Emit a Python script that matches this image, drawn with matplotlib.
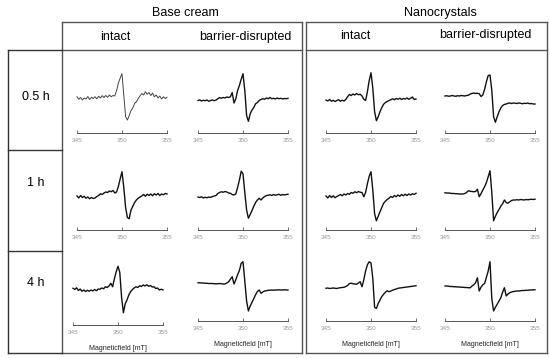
import matplotlib
matplotlib.use('Agg')
import matplotlib.pyplot as plt
import numpy as np
from matplotlib.lines import Line2D

plt.rcParams['font.family'] = ['Liberation Sans', 'DejaVu Sans']

# ===== data (0.2 mT steps) =====
field = np.linspace(345, 355, 51)

groups = ["Base cream", "Nanocrystals"]
conditions = ["intact", "barrier-disrupted"]
times = ["0.5 h", "1 h", "4 h"]

# row 0.5 h
bc_intact_05 = [0.05, -0.05, 0.02, -0.08, 0.0, -0.04, 0.06, -0.06, 0.03, -0.02,
                0.05, -0.03, 0.07, 0.0, 0.09, 0.02, 0.10, 0.03, 0.12, 0.05,
                0.10, 0.08, 0.30, 0.60, 0.80, 0.97, 0.10, -0.75, -0.88, -0.70,
                -0.50, -0.40, -0.22, -0.15, -0.02, 0.08, 0.18, 0.12, 0.25, 0.15,
                0.22, 0.10, 0.20, 0.05, 0.12, 0.00, 0.08, -0.04, 0.05, -0.02, 0.03]
bc_barrier_05 = [-0.10, -0.08, -0.12, -0.09, -0.11, -0.08, -0.13, -0.10, -0.08, -0.11,
                 -0.08, -0.03, 0.02, -0.01, 0.02, 0.0, 0.04, 0.02, 0.05, 0.22,
                 -0.20, -0.03, 0.30, 0.50, 0.75, 0.97, 0.30, -0.70, -0.93, -0.63,
                 -0.48, -0.38, -0.23, -0.18, -0.10, -0.06, -0.03, -0.05, 0.0, -0.03,
                 0.02, -0.03, -0.01, -0.04, 0.0, -0.03, -0.01, -0.04, -0.02, -0.03, -0.01]
nc_intact_05 = [-0.08, -0.12, -0.06, -0.13, -0.09, -0.14, -0.10, -0.07, -0.13, -0.09,
                -0.12, -0.06, 0.05, 0.14, 0.10, 0.16, 0.12, 0.18, 0.13, 0.15,
                0.08, -0.05, -0.10, 0.25, 0.70, 1.01, 0.40, -0.55, -0.91, -0.75,
                -0.55, -0.38, -0.25, -0.18, -0.14, -0.10, -0.07, -0.03, -0.07, -0.02,
                -0.05, -0.01, -0.06, -0.02, -0.04, 0.0, -0.05, -0.01, 0.04, -0.06, -0.04]
nc_barrier_05 = [0.08, 0.09, 0.07, 0.08, 0.10, 0.08, 0.07, 0.09, 0.08, 0.10,
                 0.09, 0.08, 0.10, 0.11, 0.16, 0.18, 0.20, 0.18, 0.19, 0.17,
                 0.06, 0.12, 0.35, 0.65, 0.90, 0.92, 0.30, -0.75, -0.97, -0.75,
                 -0.55, -0.40, -0.30, -0.26, -0.24, -0.21, -0.20, -0.22, -0.20, -0.21,
                 -0.22, -0.20, -0.21, -0.23, -0.21, -0.22, -0.20, -0.23, -0.22, -0.24, -0.24]

# row 1 h
bc_intact_1 = [-0.04, -0.12, -0.02, -0.10, -0.05, -0.13, -0.08, -0.15, -0.10, -0.14,
               -0.12, -0.06, -0.02, 0.05, 0.02, 0.08, 0.12, 0.10, 0.16, 0.13,
               0.18, 0.08, 0.12, 0.35, 0.65, 0.93, 0.30, -0.50, -0.90, -0.95,
               -0.60, -0.45, -0.30, -0.20, -0.13, -0.08, -0.04, 0.02, -0.05, 0.03,
               -0.02, 0.04, -0.03, 0.05, 0.0, 0.06, -0.02, 0.04, 0.01, 0.06, 0.04]
bc_barrier_1 = [-0.08, -0.10, -0.07, -0.12, -0.09, -0.11, -0.08, -0.10, -0.06, -0.04,
                -0.02, 0.06, 0.10, 0.13, 0.11, 0.14, 0.12, 0.08, 0.07, 0.02,
                0.0, 0.04, 0.30, 0.60, 0.95, 0.85, 0.10, -0.60, -0.93, -0.78,
                -0.62, -0.45, -0.30, -0.20, -0.13, -0.20, -0.12, -0.06, -0.02, -0.01,
                0.01, -0.02, 0.02, -0.01, 0.01, 0.03, -0.01, 0.02, 0.0, 0.02, 0.03]
nc_intact_1 = [-0.04, -0.12, -0.02, -0.10, -0.03, -0.11, -0.06, -0.02, 0.02, -0.03,
               0.04, 0.0, 0.06, 0.03, 0.10, 0.07, 0.13, 0.09, 0.14, 0.11,
               0.10, -0.07, 0.10, 0.45, 0.75, 0.93, 0.20, -0.75, -1.03, -0.85,
               -0.67, -0.50, -0.33, -0.25, -0.18, -0.13, -0.06, -0.10, -0.02, -0.07,
               0.0, -0.05, 0.02, -0.03, 0.03, -0.02, 0.04, 0.0, 0.05, 0.02, 0.07]
nc_barrier_1 = [0.09, 0.08, 0.08, 0.07, 0.06, 0.06, 0.05, 0.05, 0.04, 0.04,
                0.04, 0.06, 0.10, 0.17, 0.15, 0.14, 0.13, 0.14, 0.23, -0.07,
                0.05, 0.20, 0.33, 0.50, 0.73, 0.97, 0.10, -1.03, -0.85, -0.70,
                -0.58, -0.45, -0.35, -0.20, -0.30, -0.33, -0.27, -0.22, -0.20, -0.20,
                -0.19, -0.20, -0.18, -0.19, -0.20, -0.18, -0.19, -0.18, -0.17, -0.18, -0.17]

# row 4 h
bc_intact_4 = [0.07, 0.02, 0.09, -0.02, 0.04, -0.05, 0.0, -0.06, -0.01, -0.05,
               0.0, -0.04, 0.02, -0.03, 0.04, 0.03, 0.08, 0.05, 0.13, 0.10,
               0.16, 0.27, 0.13, 0.45, 0.73, 0.95, 0.70, -0.30, -0.91, -0.55,
               -0.40, -0.20, -0.07, 0.02, 0.08, 0.13, 0.10, 0.17, 0.14, 0.20,
               0.16, 0.21, 0.15, 0.18, 0.12, 0.13, 0.06, 0.08, 0.0, 0.03, 0.0]
bc_barrier_4 = [0.13, 0.13, 0.12, 0.12, 0.11, 0.11, 0.10, 0.10, 0.10, 0.09,
                0.09, 0.09, 0.10, 0.09, 0.08, 0.08, 0.12, 0.17, 0.27, 0.37,
                0.08, 0.25, 0.45, 0.62, 0.91, 0.97, 0.20, -0.60, -1.0, -0.80,
                -0.65, -0.50, -0.35, -0.22, -0.16, -0.29, -0.24, -0.20, -0.19, -0.17,
                -0.17, -0.16, -0.17, -0.16, -0.16, -0.15, -0.16, -0.16, -0.15, -0.16, -0.16]
nc_intact_4 = [-0.09, -0.08, -0.10, -0.09, -0.08, -0.09, -0.10, -0.08, -0.07, -0.06,
               -0.05, -0.02, 0.02, 0.10, 0.11, 0.09, 0.08, 0.07, 0.12, 0.17,
               -0.03, 0.25, 0.60, 0.85, 0.97, 0.92, 0.30, -0.85, -0.90, -0.70,
               -0.56, -0.42, -0.33, -0.25, -0.19, -0.23, -0.20, -0.17, -0.14, -0.12,
               -0.09, -0.08, -0.07, -0.06, -0.05, -0.04, -0.03, -0.02, -0.01, 0.0, 0.01]
nc_barrier_4 = [0.0, 0.0, -0.01, -0.02, -0.02, -0.03, -0.03, -0.04, -0.04, -0.05,
                -0.05, -0.06, -0.06, -0.07, -0.07, 0.0, 0.05, 0.13, 0.33, -0.20,
                -0.05, 0.05, 0.10, 0.35, 0.60, 0.97, -0.50, -1.0, -0.85, -0.73,
                -0.60, -0.47, -0.25, -0.07, -0.40, -0.32, -0.27, -0.24, -0.22, -0.21,
                -0.20, -0.20, -0.19, -0.18, -0.18, -0.17, -0.17, -0.16, -0.16, -0.15, -0.15]

spectra = [
    [bc_intact_05, bc_barrier_05, nc_intact_05, nc_barrier_05],
    [bc_intact_1, bc_barrier_1, nc_intact_1, nc_barrier_1],
    [bc_intact_4, bc_barrier_4, nc_intact_4, nc_barrier_4],
]

# ===== layout (pixels of a 550x358 canvas) =====
W, H = 550, 358
col_x = [77, 198, 326, 445]
row_axis_y = [133, 230, 321]
panel_w, panel_h = 90, 70

fig = plt.figure(figsize=(5.5, 3.58), dpi=100)


def fx(x):
    return x / W


def fy(y):
    return 1 - y / H


def hline(x0, x1, y, color='#555555', lw=1.0):
    fig.add_artist(Line2D([fx(x0), fx(x1)], [fy(y), fy(y)], color=color, lw=lw))


def vline(x, y0, y1, color='#555555', lw=1.0):
    fig.add_artist(Line2D([fx(x), fx(x)], [fy(y0), fy(y1)], color=color, lw=lw))


# ===== frames =====
for x0, x1 in [(62, 302), (306, 547)]:
    hline(x0, x1, 22)
    hline(x0, x1, 50)
    hline(x0, x1, 353)
    vline(x0, 22, 353)
    vline(x1, 22, 353)

# row label column
for y in [50, 150, 251, 353]:
    hline(8, 62, y, color='#333333')
vline(8, 50, 353, color='#333333')

# ===== headers =====
fig.text(fx(185), fy(13), groups[0], ha='center', va='center', fontsize=9)
fig.text(fx(440), fy(13), groups[1], ha='center', va='center', fontsize=9)
header_x = [115, 245, 355, 485]
header_y = [37, 37, 36, 35]
for i, hx in enumerate(header_x):
    fig.text(fx(hx), fy(header_y[i]), conditions[i % 2], ha='center', va='center', fontsize=9)

for t, ty in zip(times, [97, 183, 283]):
    fig.text(fx(36), fy(ty), t, ha='center', va='center', fontsize=9)

# ===== spectra =====
for r in range(3):
    for c in range(4):
        x0 = col_x[c]
        ay = row_axis_y[r]
        if r == 2 and c == 0:
            x0, ay = 73, 325
        ax = fig.add_axes([fx(x0), fy(ay), panel_w / W, panel_h / H])
        lw = 0.7 if (r == 0 and c == 0) else 1.0
        col = '#444444' if (r == 0 and c == 0) else '#111111'
        ax.plot(field, spectra[r][c], color=col, lw=lw, clip_on=False)
        ax.set_xlim(345, 355)
        ax.set_ylim(-1.4, 1.4)
        ax.set_xticks([345, 350, 355])
        ax.set_yticks([])
        for s in ['top', 'left', 'right']:
            ax.spines[s].set_visible(False)
        ax.spines['bottom'].set_color('#555555')
        ax.spines['bottom'].set_linewidth(0.7)
        ax.tick_params(axis='x', direction='in', length=2.5, width=0.6,
                       color='#555555', labelsize=4.6, labelcolor='#999999', pad=3.5)
        ax.patch.set_alpha(0)
        if r == 2:
            fig.text(fx(x0 + panel_w / 2), fy(ay + 24), "Magneticfield [mT]",
                     ha='center', va='center', fontsize=5, color='#222222')

fig.savefig('out.png', dpi=100)
